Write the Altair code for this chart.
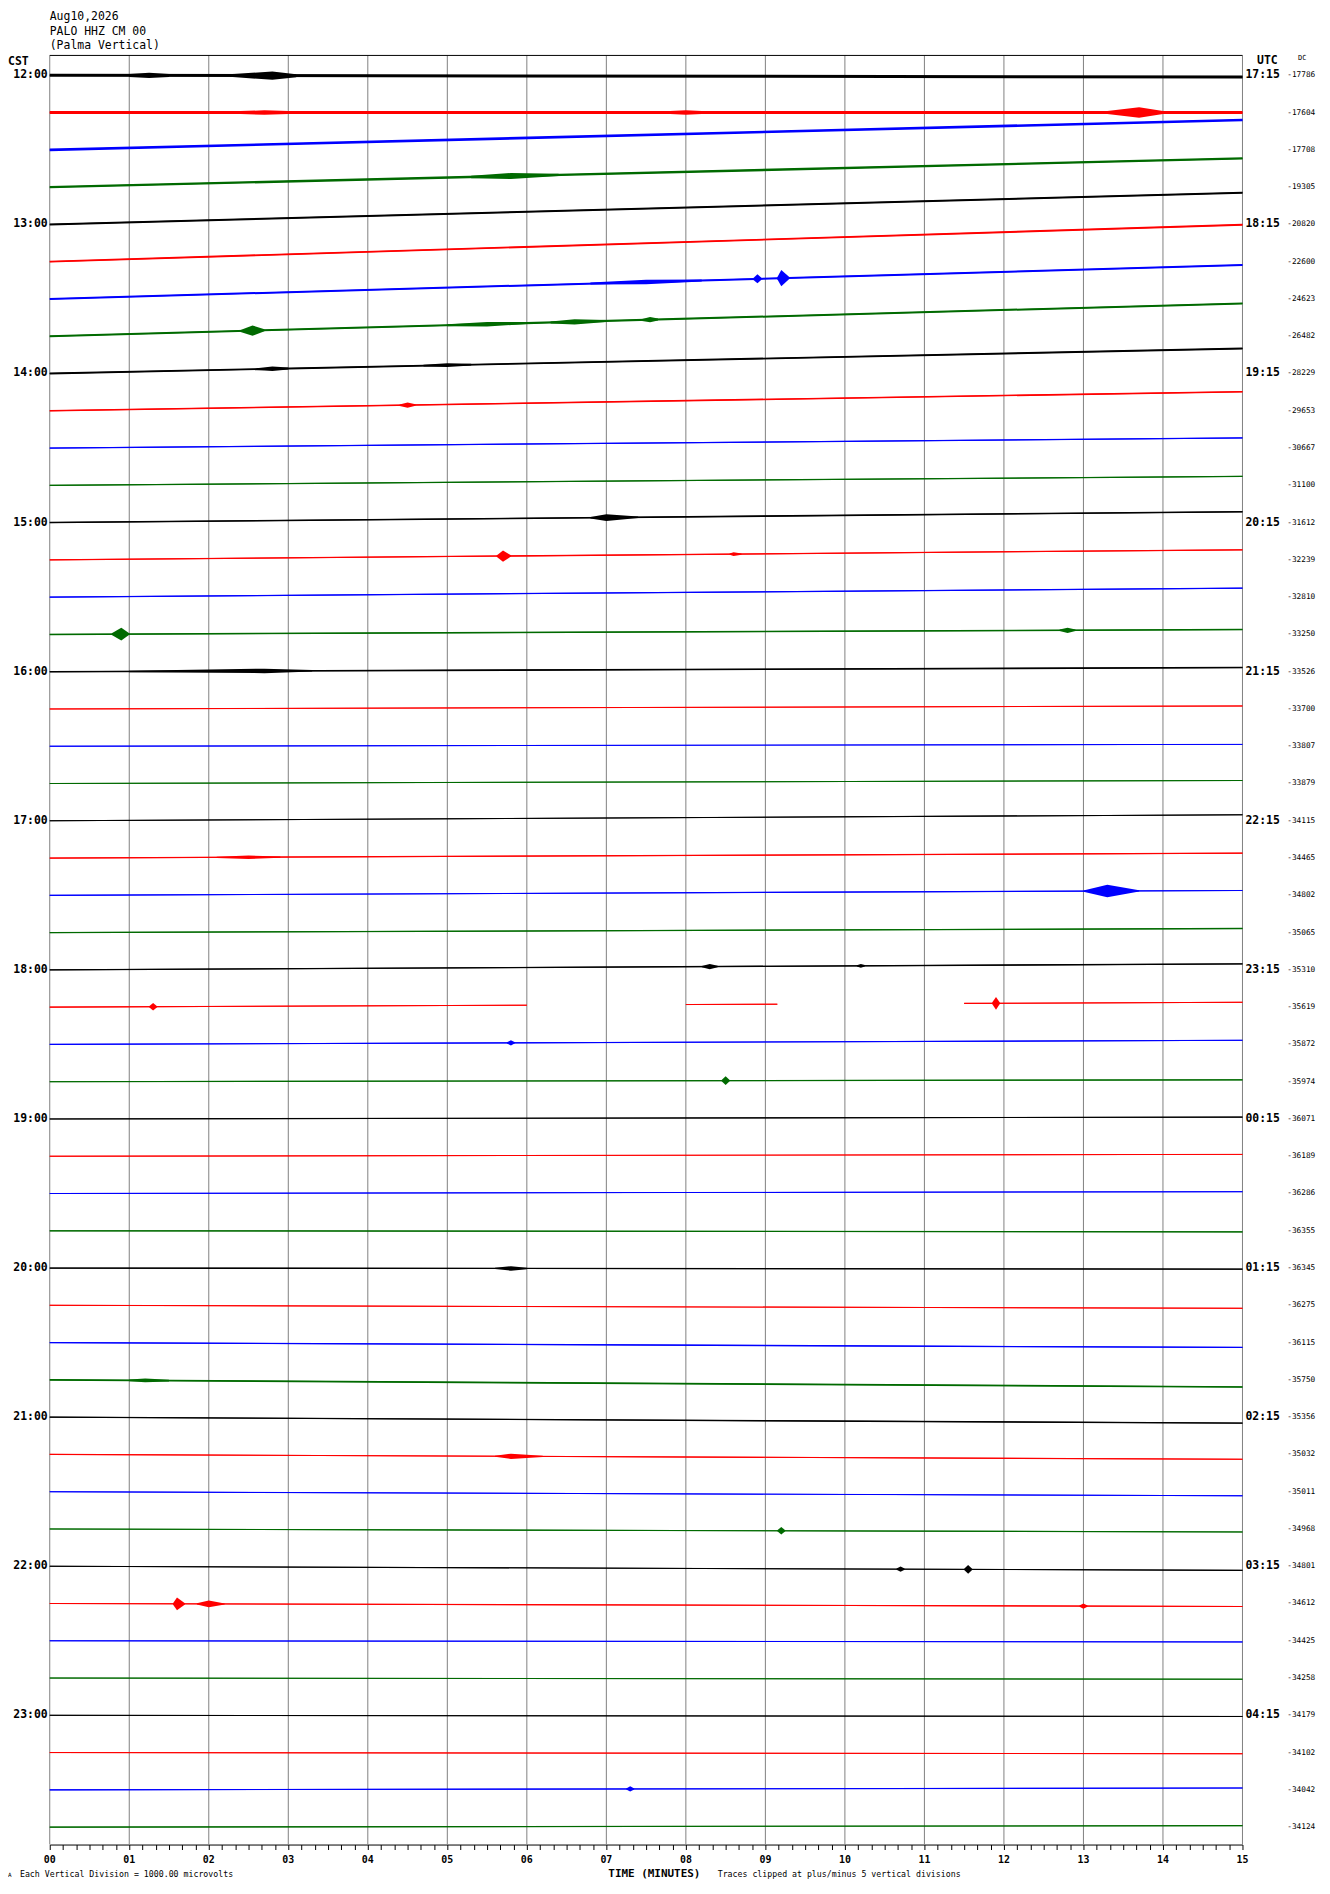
import altair as alt
import pandas as pd

# header / labels
header_lines = ['Aug10,2026', 'PALO HHZ CM 00', '(Palma Vertical)']
cst_hours = ['12:00', '13:00', '14:00', '15:00', '16:00', '17:00',
             '18:00', '19:00', '20:00', '21:00', '22:00', '23:00']
utc_hours = ['17:15', '18:15', '19:15', '20:15', '21:15', '22:15',
             '23:15', '00:15', '01:15', '02:15', '03:15', '04:15']
minute_labels = ['00', '01', '02', '03', '04', '05', '06', '07',
                 '08', '09', '10', '11', '12', '13', '14', '15']
trace_colors = ['#000000', '#ff0000', '#0000ff', '#006a00']

# DC offset printed at the right of each 15-minute line
dc_values = [-17786, -17604, -17708, -19305, -20820, -22600, -24623, -26482,
             -28229, -29653, -30667, -31100, -31612, -32239, -32810, -33250,
             -33526, -33700, -33807, -33879, -34115, -34465, -34802, -35065,
             -35310, -35619, -35872, -35974, -36071, -36189, -36286, -36355,
             -36345, -36275, -36115, -35750, -35356, -35032, -35011, -34968,
             -34801, -34612, -34425, -34258, -34179, -34102, -34042, -34124]

# drift of each line over its 15 minutes (in line spacings, negative = up)
drift_end = [0.045, 0.0, -0.80, -0.77, -0.85, -0.99, -0.91, -0.88,
             -0.67, -0.51, -0.27, -0.24, -0.29, -0.27, -0.24, -0.13,
             -0.11, -0.08, -0.05, -0.08, -0.16, -0.13, -0.13, -0.11,
             -0.16, -0.13, -0.11, -0.05, -0.05, -0.05, -0.05, 0.03,
             0.03, 0.08, 0.13, 0.19, 0.16, 0.13, 0.11, 0.08,
             0.11, 0.08, 0.03, 0.03, 0.03, 0.03, -0.05, -0.04]

# background noise half-amplitude of each line (line spacings)
noise = [0.040, 0.040, 0.035, 0.032, 0.027, 0.025, 0.027, 0.027,
         0.025, 0.021, 0.017, 0.017, 0.021, 0.017, 0.017, 0.021,
         0.021, 0.013, 0.013, 0.013, 0.015, 0.017, 0.015, 0.017,
         0.018, 0.015, 0.015, 0.015, 0.015, 0.013, 0.013, 0.017,
         0.017, 0.013, 0.017, 0.022, 0.018, 0.015, 0.013, 0.015,
         0.015, 0.015, 0.013, 0.013, 0.013, 0.013, 0.015, 0.015]

# bursts: (line, start min, peak min, end min, half-amplitude)
events = [
    (0, 1.0, 1.25, 1.5, 0.07), (0, 2.3, 2.8, 3.1, 0.11),
    (1, 2.4, 2.7, 3.0, 0.06), (1, 7.8, 8.0, 8.2, 0.06), (1, 13.3, 13.7, 14.0, 0.14),
    (3, 5.3, 5.8, 6.4, 0.08),
    (6, 6.8, 7.5, 8.2, 0.06), (6, 8.85, 8.9, 8.95, 0.12), (6, 9.15, 9.2, 9.3, 0.22),
    (7, 2.4, 2.55, 2.7, 0.14), (7, 5.0, 5.5, 6.0, 0.06), (7, 6.3, 6.6, 7.0, 0.07),
    (7, 7.45, 7.55, 7.65, 0.07),
    (8, 2.6, 2.8, 3.0, 0.06), (8, 4.7, 5.0, 5.3, 0.05),
    (9, 4.4, 4.5, 4.6, 0.07),
    (12, 6.8, 7.0, 7.4, 0.09),
    (13, 5.62, 5.7, 5.8, 0.15), (13, 8.55, 8.6, 8.7, 0.05),
    (15, 0.78, 0.9, 1.0, 0.17), (15, 12.7, 12.8, 12.9, 0.07),
    (16, 1.0, 2.7, 3.3, 0.06),
    (21, 2.1, 2.5, 2.9, 0.045),
    (22, 13.0, 13.3, 13.7, 0.17),
    (24, 8.2, 8.3, 8.4, 0.07), (24, 10.15, 10.2, 10.25, 0.05),
    (25, 1.25, 1.3, 1.35, 0.1), (25, 11.85, 11.9, 11.95, 0.17),
    (26, 5.75, 5.8, 5.85, 0.07),
    (27, 8.45, 8.5, 8.55, 0.12),
    (32, 5.6, 5.8, 6.0, 0.06),
    (35, 1.0, 1.2, 1.5, 0.05),
    (37, 5.6, 5.8, 6.2, 0.07),
    (39, 9.15, 9.2, 9.25, 0.1),
    (40, 10.65, 10.7, 10.75, 0.07), (40, 11.5, 11.55, 11.6, 0.12),
    (41, 1.55, 1.6, 1.7, 0.17), (41, 1.85, 2.0, 2.2, 0.09), (41, 12.95, 13.0, 13.05, 0.07),
    (46, 7.25, 7.3, 7.35, 0.07),
]

# recorded stretches where data is missing elsewhere
segments = {25: [(0, 6.0), (8.0, 9.15), (11.5, 15)]}

n = len(dc_values)
band_rows = []
for i in range(n):
    for s, (a, b) in enumerate(segments.get(i, [(0, 15)])):
        for t in (a, b):
            c = i + drift_end[i] * t / 15
            band_rows.append(dict(seg=f'{i}-{s}', t=t, c=c, lo=c - noise[i],
                                  hi=c + noise[i], k=i % 4))
bands = pd.DataFrame(band_rows)

ev_rows = []
for j, (i, t0, tp, t1, amp) in enumerate(events):
    for t, a in ((t0, noise[i]), (tp, amp), (t1, noise[i])):
        c = i + drift_end[i] * t / 15
        ev_rows.append(dict(ev=j, t=t, lo=c - a, hi=c + a, k=i % 4))
bursts = pd.DataFrame(ev_rows)

hours = pd.DataFrame({'row': [4 * h for h in range(len(cst_hours))],
                      'cst': cst_hours, 'utc': utc_hours})
dc = pd.DataFrame({'row': list(range(n)), 'dc': [str(v) for v in dc_values]})
minutes = pd.DataFrame({'m': list(range(16)), 'lab': minute_labels})
one = pd.DataFrame({'z': [0]})

y_top, y_bot = -20 / 37.5, 1780 / 37.5
xs = alt.Scale(domain=[0, 15], nice=False, zero=False)
ys = alt.Scale(domain=[y_top, y_bot], reverse=True, nice=False, zero=False)
x_axis = alt.Axis(values=[k / 6 for k in range(91)], labels=False, title=None,
                  grid=False, domainColor='black', tickColor='black',
                  tickSize=5, orient='bottom')
color = alt.Color('k:N', scale=alt.Scale(domain=[0, 1, 2, 3], range=trace_colors),
                  legend=None)
mono = 'DejaVu Sans Mono'

grid = alt.Chart(minutes).mark_rule(color='#808080', strokeWidth=1).encode(
    x=alt.X('m:Q', scale=xs, axis=x_axis))
top = alt.Chart(one).mark_rule(color='black', strokeWidth=1).encode(
    y=alt.Y(datum=y_top, scale=ys, axis=None))

band = alt.Chart(bands).mark_area().encode(
    x=alt.X('t:Q', scale=xs, axis=x_axis),
    y=alt.Y('lo:Q', scale=ys, axis=None), y2='hi:Q',
    detail='seg:N', color=color)
line = alt.Chart(bands).mark_line(strokeWidth=1).encode(
    x=alt.X('t:Q', scale=xs, axis=x_axis),
    y=alt.Y('c:Q', scale=ys, axis=None),
    detail='seg:N', color=color)
burst = alt.Chart(bursts).mark_area().encode(
    x=alt.X('t:Q', scale=xs, axis=x_axis),
    y=alt.Y('lo:Q', scale=ys, axis=None), y2='hi:Q',
    detail='ev:N', color=color)

cst_text = alt.Chart(hours).mark_text(align='right', baseline='middle', font=mono,
                                      fontSize=11.5, fontWeight='bold').encode(
    x=alt.value(-2), y=alt.Y('row:Q', scale=ys, axis=None), text='cst:N')
utc_text = alt.Chart(hours).mark_text(align='left', baseline='middle', font=mono,
                                      fontSize=11.5, fontWeight='bold').encode(
    x=alt.value(1203), y=alt.Y('row:Q', scale=ys, axis=None), text='utc:N')
dc_text = alt.Chart(dc).mark_text(align='left', baseline='middle', font=mono,
                                  fontSize=7.8).encode(
    x=alt.value(1245), y=alt.Y('row:Q', scale=ys, axis=None), text='dc:N')
min_text = alt.Chart(minutes).mark_text(baseline='middle', font=mono,
                                        fontSize=10, fontWeight='bold').encode(
    x=alt.X('m:Q', scale=xs, axis=x_axis), y=alt.value(1816), text='lab:N')


def label(txt, x, y, size=11.5, weight='bold', align='left'):
    return alt.Chart(one).mark_text(align=align, baseline='middle', font=mono,
                                    fontSize=size, fontWeight=weight).encode(
        x=alt.value(x), y=alt.value(y), text=alt.value(txt))


header = alt.Chart(one).mark_text(align='left', baseline='top', font=mono,
                                  fontSize=11.5, lineHeight=15).encode(
    x=alt.value(0), y=alt.value(-45), text=alt.value(header_lines))

chart = alt.layer(
    grid, top, band, line, burst, cst_text, utc_text, dc_text, min_text, header,
    label('CST', -42, 7),
    label('UTC', 1225, 6, align='center'),
    label('DC', 1260, 3, size=7, weight='normal', align='center'),
    label('TIME (MINUTES)', 562, 1830, size=11),
    label('Each Vertical Division = 1000.00 microvolts', -30, 1831, size=8.3, weight='normal'),
    label('Traces clipped at plus/minus 5 vertical divisions', 672, 1831, size=8.3, weight='normal'),
    label('A', -42, 1831, size=6, weight='normal'),
).properties(
    width=1200, height=1800,
    padding={'left': 42, 'top': 42, 'right': 80, 'bottom': 38},
    autosize=alt.AutoSizeParams(type='none'),
).configure_view(stroke=None)

chart.save('out.html', embed_options={'renderer': 'svg', 'actions': False})
